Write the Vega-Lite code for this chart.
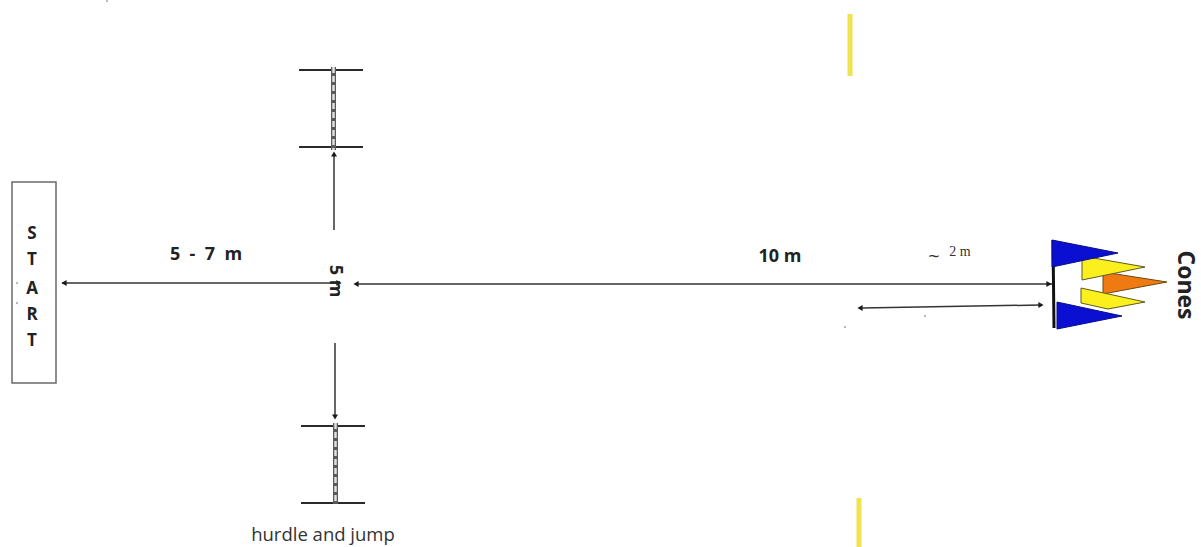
{"$schema":"https://vega.github.io/schema/vega-lite/v6.json","width":1201,"height":547,"padding":0,"autosize":{"type":"none"},"background":"#ffffff","config":{"view":{"stroke":null}},
"datasets":{
"thin":[{"name":"main left","x":62,"y":283,"x2":338,"y2":283},{"name":"main right","x":356,"y":284,"x2":1052,"y2":284},{"name":"two metre","x":862,"y":308,"x2":1040,"y2":305},{"name":"up","x":334,"y":155,"x2":334,"y2":230},{"name":"down","x":335,"y":343,"x2":335,"y2":417}],
"bars":[{"name":"h1a","x":299,"y":70,"x2":363,"y2":70},{"name":"h1b","x":299,"y":147,"x2":363,"y2":147},{"name":"h2a","x":301,"y":426,"x2":365,"y2":426},{"name":"h2b","x":301,"y":503,"x2":365,"y2":503}],
"poles":[{"name":"p1","x":333.5,"y":67,"x2":333.5,"y2":150},{"name":"p2","x":335.5,"y":423,"x2":335.5,"y2":504}],
"gate":[{"name":"gate","x":1053,"y":240,"x2":1054,"y2":328}],
"yellowlines":[{"name":"top","x":850,"y":14,"x2":850,"y2":76},{"name":"bottom","x":859,"y":498,"x2":859,"y2":547}],
"startbox":[{"name":"start","x":12,"y":182,"x2":56,"y2":383}],
"heads":[{"s":"triangle-left","x":64,"y":283},{"s":"triangle-right","x":339,"y":283},{"s":"triangle-left","x":356,"y":284},{"s":"triangle-right","x":1049,"y":284},{"s":"triangle-left","x":860,"y":308},{"s":"triangle-right","x":1041,"y":305},{"s":"triangle-up","x":334,"y":154},{"s":"triangle-down","x":335,"y":417}],
"orange":[{"id":"o","i":0,"x":1103,"y":272},{"id":"o","i":1,"x":1167,"y":282},{"id":"o","i":2,"x":1103,"y":294},{"id":"o","i":3,"x":1103,"y":272}],
"yellow":[{"id":"y1","i":0,"x":1082,"y":256},{"id":"y1","i":1,"x":1145,"y":267},{"id":"y1","i":2,"x":1082,"y":280},{"id":"y1","i":3,"x":1082,"y":256},{"id":"y2","i":0,"x":1081,"y":288},{"id":"y2","i":1,"x":1145,"y":302},{"id":"y2","i":2,"x":1108,"y":309},{"id":"y2","i":3,"x":1081,"y":303},{"id":"y2","i":4,"x":1081,"y":288}],
"blue":[{"id":"b1","i":0,"x":1052,"y":240},{"id":"b1","i":1,"x":1118,"y":253},{"id":"b1","i":2,"x":1052,"y":267},{"id":"b1","i":3,"x":1052,"y":240},{"id":"b2","i":0,"x":1057,"y":302},{"id":"b2","i":1,"x":1122,"y":316},{"id":"b2","i":2,"x":1057,"y":329},{"id":"b2","i":3,"x":1057,"y":302}],
"letters":[{"t":"S","x":32,"y":234},{"t":"T","x":32,"y":260},{"t":"A","x":32,"y":289},{"t":"R","x":32,"y":315},{"t":"T","x":32,"y":341}],
"boldlabels":[{"t":"5\u00a0\u00a0-\u00a0\u00a07\u00a0\u00a0m","x":206,"y":255},{"t":"10 m","x":780,"y":257}],
"rotated":[{"t":"5 m","x":335,"y":281}],
"cones":[{"t":"Cones","x":1185,"y":285}],
"small":[{"t":"2 m","x":960,"y":252}],
"tilde":[{"t":"~","x":934,"y":257}],
"caption":[{"t":"hurdle and jump","x":323,"y":535}],
"specks":[{"x":107,"y":1},{"x":845,"y":327},{"x":925,"y":316},{"x":17,"y":283},{"x":17,"y":303}]
},
"encoding":{"x":{"field":"x","type":"quantitative","scale":{"domain":[0,1201],"nice":false,"zero":false},"axis":null},"y":{"field":"y","type":"quantitative","scale":{"domain":[547,0],"nice":false,"zero":false},"axis":null}},
"layer":[
{"data":{"name":"yellowlines"},"mark":{"type":"rule","color":"#efe34e","strokeWidth":5},"encoding":{"x2":{"field":"x2"},"y2":{"field":"y2"}}},
{"data":{"name":"startbox"},"mark":{"type":"rect","fill":"#ffffff","stroke":"#6a6a6a","strokeWidth":1.5},"encoding":{"x2":{"field":"x2"},"y2":{"field":"y2"}}},
{"data":{"name":"thin"},"mark":{"type":"rule","color":"#333333","strokeWidth":1.5},"encoding":{"x2":{"field":"x2"},"y2":{"field":"y2"}}},
{"data":{"name":"bars"},"mark":{"type":"rule","color":"#2a2a2a","strokeWidth":2},"encoding":{"x2":{"field":"x2"},"y2":{"field":"y2"}}},
{"data":{"name":"poles"},"mark":{"type":"rule","color":"#5a5a5a","strokeWidth":5},"encoding":{"x2":{"field":"x2"},"y2":{"field":"y2"}}},
{"data":{"name":"poles"},"mark":{"type":"rule","color":"#e0e0e0","strokeWidth":2.5,"strokeDash":[6,3]},"encoding":{"x2":{"field":"x2"},"y2":{"field":"y2"}}},
{"data":{"name":"heads"},"mark":{"type":"point","filled":true,"color":"#1a1a1a","size":36,"opacity":1},"encoding":{"shape":{"field":"s","type":"nominal","scale":null,"legend":null}}},
{"data":{"name":"orange"},"mark":{"type":"line","fill":"#f07a12","stroke":"#6b4a10","strokeWidth":1},"encoding":{"detail":{"field":"id"},"order":{"field":"i","type":"quantitative"}}},
{"data":{"name":"yellow"},"mark":{"type":"line","fill":"#fbf01e","stroke":"#5f5a20","strokeWidth":1},"encoding":{"detail":{"field":"id"},"order":{"field":"i","type":"quantitative"}}},
{"data":{"name":"gate"},"mark":{"type":"rule","color":"#111111","strokeWidth":3},"encoding":{"x2":{"field":"x2"},"y2":{"field":"y2"}}},
{"data":{"name":"blue"},"mark":{"type":"line","fill":"#0a0fd2","stroke":"#0a0f8a","strokeWidth":1},"encoding":{"detail":{"field":"id"},"order":{"field":"i","type":"quantitative"}}},
{"data":{"name":"letters"},"mark":{"type":"text","font":"Open Sans","fontWeight":"bold","fontSize":17,"color":"#222222"},"encoding":{"text":{"field":"t"}}},
{"data":{"name":"boldlabels"},"mark":{"type":"text","font":"Open Sans","fontWeight":"bold","fontSize":18,"color":"#222222"},"encoding":{"text":{"field":"t"}}},
{"data":{"name":"rotated"},"mark":{"type":"text","font":"Open Sans","fontWeight":"bold","fontSize":18,"angle":90,"color":"#222222"},"encoding":{"text":{"field":"t"}}},
{"data":{"name":"cones"},"mark":{"type":"text","font":"Open Sans","fontWeight":"bold","fontSize":23,"angle":90,"color":"#222222"},"encoding":{"text":{"field":"t"}}},
{"data":{"name":"small"},"mark":{"type":"text","font":"Liberation Serif","fontSize":14,"color":"#333333"},"encoding":{"text":{"field":"t"}}},
{"data":{"name":"tilde"},"mark":{"type":"text","font":"Open Sans","fontSize":20,"color":"#333333"},"encoding":{"text":{"field":"t"}}},
{"data":{"name":"caption"},"mark":{"type":"text","font":"Open Sans","fontSize":18.5,"color":"#333333"},"encoding":{"text":{"field":"t"}}},
{"data":{"name":"specks"},"mark":{"type":"point","filled":true,"color":"#777777","size":3,"opacity":1}}
]}
